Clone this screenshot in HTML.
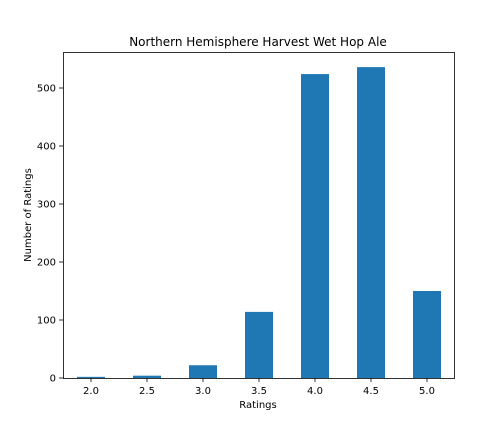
<!DOCTYPE html>
<html><head><meta charset="utf-8"><style>
body{margin:0;background:#fff;width:504px;height:432px;overflow:hidden}
text{font-family:"DejaVu Sans","Liberation Sans",sans-serif;fill:#000}
</style></head><body>
<svg id="chart" width="504" height="432">
<text x="258" y="46" text-anchor="middle" font-size="12">Northern Hemisphere Harvest Wet Hop Ale</text>
<text x="258" y="408" text-anchor="middle" font-size="10">Ratings</text>
<text transform="translate(31,215) rotate(-90)" text-anchor="middle" font-size="10">Number of Ratings</text>
<g id="bars"></g><g id="ticks"></g>
<rect x="63.5" y="52.5" width="391" height="326" fill="none" stroke="#000" stroke-width="0.8"/>
</svg>
<script>
const categories=["2.0","2.5","3.0","3.5","4.0","4.5","5.0"];
const counts=[2,4,22,114,524,536,150];
const yTicks=[0,100,200,300,400,500];
const NS="http://www.w3.org/2000/svg";
const x0=91,step=56,bw=28;
const yScale=v=>378-v*0.58;
const xScale=i=>x0+i*step;
const bars=document.getElementById('bars'),ticks=document.getElementById('ticks');
counts.forEach((v,i)=>{
 const r=document.createElementNS(NS,'rect');
 r.setAttribute('x',xScale(i)-bw/2);r.setAttribute('width',bw);
 r.setAttribute('y',yScale(v));r.setAttribute('height',378-yScale(v));
 r.setAttribute('fill','#1f77b4');
 
 
 bars.appendChild(r);
 const l=document.createElementNS(NS,'line');
 l.setAttribute('x1',xScale(i));l.setAttribute('x2',xScale(i));l.setAttribute('y1',378);l.setAttribute('y2',382);l.setAttribute('stroke','#000');l.setAttribute('stroke-width','0.8');
 ticks.appendChild(l);
 const t=document.createElementNS(NS,'text');
 t.setAttribute('x',xScale(i));t.setAttribute('y',394);t.setAttribute('text-anchor','middle');t.setAttribute('font-size','10');
 t.textContent=categories[i];
 
 
 ticks.appendChild(t);
});
yTicks.forEach(v=>{
 const l=document.createElementNS(NS,'line');
 l.setAttribute('x1',59);l.setAttribute('x2',63.5);l.setAttribute('y1',yScale(v));l.setAttribute('y2',yScale(v));l.setAttribute('stroke','#000');l.setAttribute('stroke-width','0.8');
 ticks.appendChild(l);
 const t=document.createElementNS(NS,'text');
 t.setAttribute('x',56);t.setAttribute('y',yScale(v)+3.5);t.setAttribute('text-anchor','end');t.setAttribute('font-size','10');
 t.textContent=v;
 
 
 ticks.appendChild(t);
});
</script>
</body></html>
